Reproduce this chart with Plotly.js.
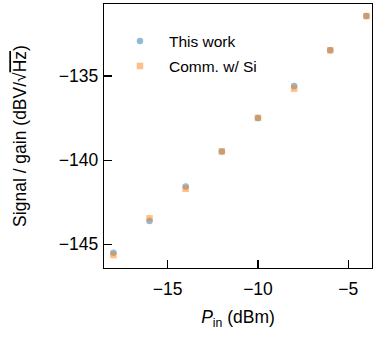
<!DOCTYPE html>
<html><head><meta charset="utf-8">
<script src="https://cdn.plot.ly/plotly-3.0.1.min.js"></script>
<style>body{margin:0;padding:0;background:#fff}#plot{width:373px;height:339px}</style>
</head><body><div id="plot"></div>
<script>
const pin = [-18, -16, -14, -12, -10, -8, -6, -4];
const thisWork = [-145.50, -143.62, -141.56, -139.48, -137.49, -135.59, -133.47, -131.44];
const commSi = [-145.64, -143.46, -141.70, -139.48, -137.49, -135.75, -133.47, -131.44];
const seriesNames = ["This work", "Comm. w/ Si"];
const xTicks = [-15, -10, -5];
const yTicks = [-145, -140, -135];

const font = "Liberation Sans, Arial, sans-serif";
const traces = [
  {x: pin, y: thisWork, name: seriesNames[0], type: "scatter", mode: "markers", legendgroup: "a",
   marker: {symbol: "circle", size: 6.5, color: "#1f77b4", opacity: 0.5}},
  {x: pin, y: commSi, name: seriesNames[1], type: "scatter", mode: "markers", legendgroup: "b",
   marker: {symbol: "square", size: 6.5, color: "#ff7f0e", opacity: 0.5}}
];
const axisCommon = {
  showline: true, linecolor: "#000", linewidth: 1.3, mirror: true,
  ticks: "inside", ticklen: 8, tickwidth: 1.3, tickcolor: "#000",
  showgrid: false, zeroline: false,
  tickfont: {family: font, size: 17.5, color: "#000"}
};
const layout = {
  width: 373, height: 339,
  margin: {l: 104, r: 1, t: 4, b: 71},
  paper_bgcolor: "#fff", plot_bgcolor: "#fff",
  font: {family: font, color: "#000"},
  showlegend: true,
  legend: {x: 0.026, y: 0.923, xanchor: "left", yanchor: "top", bgcolor: "rgba(0,0,0,0)",
           itemwidth: 48,
           font: {family: font, size: 15.5, color: "#000"}, tracegroupgap: 2},
  xaxis: Object.assign({}, axisCommon, {
    range: [-18.52, -3.69], tickvals: xTicks, ticklabelstandoff: 5,
    title: {text: "<i>P</i><sub>in</sub> (dBm)", font: {family: font, size: 17.5, color: "#000"}, standoff: 12}
  }),
  yaxis: Object.assign({}, axisCommon, {
    range: [-146.41, -130.72], tickvals: yTicks, ticklabelstandoff: 1,
    title: {text: "Signal / gain (dBV/√<span style='text-decoration:overline'>Hz</span>)", font: {family: font, size: 17.5, color: "#000"}, standoff: 27}
  })
};
Plotly.newPlot("plot", traces, layout, {displayModeBar: false, staticPlot: true});
</script></body></html>
